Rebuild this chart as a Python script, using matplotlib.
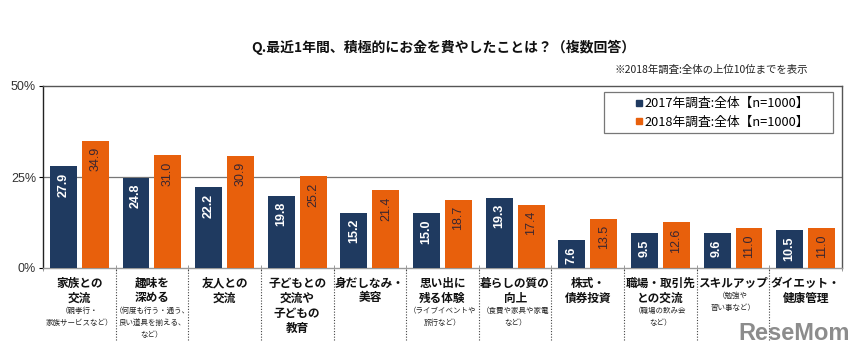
import numpy as np
import matplotlib.pyplot as plt
from matplotlib.lines import Line2D
from matplotlib.patches import Rectangle

plt.rcParams['font.family'] = ['Noto Sans CJK JP', 'DejaVu Sans']

# データ
main_labels = ['家族との\n交流', '趣味を\n深める', '友人との\n交流', '子どもとの\n交流や\n子どもの\n教育',
               '身だしなみ・\n美容', '思い出に\n残る体験', '暮らしの質の\n向上', '株式・\n債券投資',
               '職場・取引先\nとの交流', 'スキルアップ', 'ダイエット・\n健康管理']
sub_labels = ['（親孝行・\n家族サービスなど）', '（何度も行う・通う、\n良い道具を揃える、\nなど）', '', '',
              '', '（ライブイベントや\n旅行など）', '（食費や家具や家電\nなど）', '',
              '（職場の飲み会\nなど）', '（勉強や\n習い事など）', '']
vals_2017 = [27.9, 24.8, 22.2, 19.8, 15.2, 15.0, 19.3, 7.6, 9.5, 9.6, 10.5]
vals_2018 = [34.9, 31.0, 30.9, 25.2, 21.4, 18.7, 17.4, 13.5, 12.6, 11.0, 11.0]
series_names = ['2017年調査:全体【n=1000】', '2018年調査:全体【n=1000】']
yticks = [0, 25, 50]

c_navy = '#1f3a60'
c_orange = '#e8600c'


def main():
    fig = plt.figure(figsize=(8.56, 3.55), dpi=100)
    ax = fig.add_axes([43 / 856, 1 - 268 / 355, (842 - 43) / 856, (268 - 86) / 355])

    x = np.arange(len(main_labels))
    w = 0.37
    off = 0.22
    b1 = ax.bar(x - off, vals_2017, w, color=c_navy, zorder=3)
    b2 = ax.bar(x + off, vals_2018, w, color=c_orange, zorder=3)

    for bars, vals, col, wt in [(b1, vals_2017, 'white', 'bold'), (b2, vals_2018, '#3a2630', 'normal')]:
        for r, v in zip(bars, vals):
            ax.annotate(f'{v:.1f}', (r.get_x() + r.get_width() / 2, r.get_height()),
                        xytext=(0, -4.5), textcoords='offset points', rotation=90,
                        ha='center', va='top', fontsize=9, color=col, weight=wt,
                        family=['Liberation Sans', 'DejaVu Sans'], zorder=4)

    ax.set_xlim(-0.5, len(main_labels) - 0.5)
    ax.set_ylim(0, 50)
    ax.set_yticks(yticks)
    ax.set_yticklabels([f'{t}%' for t in yticks], fontsize=9, color='#333333',
                       family=['Liberation Sans', 'DejaVu Sans'])
    ax.tick_params(axis='y', length=3, width=0.8, pad=2)
    ax.set_xticks([])
    ax.set_xticks(np.arange(len(main_labels) + 1) - 0.5, minor=True)
    ax.tick_params(axis='x', which='minor', direction='inout', length=5, color='#888888')
    ax.axhline(25, color='#777777', lw=0.9, zorder=1)

    ax.spines['left'].set_color('#222222')
    ax.spines['top'].set_color('#555555')
    ax.spines['right'].set_color('#555555')
    ax.spines['bottom'].set_color('#999999')
    for s in ax.spines.values():
        s.set_linewidth(1.0)

    # 区切りの点線
    ax.vlines(np.arange(1, len(main_labels)) - 0.5, -72 / 182, 0, transform=ax.get_xaxis_transform(),
              colors='#444444', linestyles=(0, (1, 1.5)), lw=0.8, clip_on=False)

    # カテゴリラベル
    for i, (m, s) in enumerate(zip(main_labels, sub_labels)):
        y = -15 * 0.72
        for ln in m.split('\n'):
            ax.annotate(ln, (i, 0), xycoords=('data', 'axes fraction'), xytext=(0, y),
                        textcoords='offset points', ha='center', va='center',
                        fontsize=8.4, weight='bold', color='#111111', annotation_clip=False)
            y -= 15 * 0.72
        y += 15 * 0.72 - 13 * 0.72
        if s:
            for ln in s.split('\n'):
                ax.annotate(ln, (i, 0), xycoords=('data', 'axes fraction'), xytext=(0, y),
                            textcoords='offset points', ha='center', va='center',
                            fontsize=5.4, color='#222222', annotation_clip=False)
                y -= 12 * 0.72

    # 凡例
    fig.patches.append(Rectangle((604 / 856, 1 - 133 / 355), 229 / 856, 41 / 355,
                                 transform=fig.transFigure, fill=True, facecolor='white',
                                 edgecolor='#777777', lw=0.9, zorder=5))
    handles = [Line2D([], [], marker='s', ls='', color=c, markersize=4.5) for c in (c_navy, c_orange)]
    leg = fig.legend(handles, series_names, loc='center', bbox_to_anchor=(722 / 856, 1 - 113 / 355),
                     fontsize=9.2, frameon=False, handlelength=0.6, handletextpad=0.15,
                     labelspacing=0.45, borderpad=0.2, borderaxespad=0)
    leg.set_zorder(6)

    fig.text(443 / 856, 1 - 47 / 355, 'Q.最近1年間、積極的にお金を費やしたことは？（複数回答）',
             ha='center', va='center', fontsize=10, weight='bold', color='#111111')
    fig.text(808 / 856, 1 - 70 / 355, '※2018年調査:全体の上位10位までを表示',
             ha='right', va='center', fontsize=7.5, color='#222222')
    fig.text(850 / 856, 1 - 334 / 355, 'ReseMom', ha='right', va='center', fontsize=17,
             weight='bold', color='#8c8c8c', family=['Liberation Sans', 'DejaVu Sans'])

    fig.savefig('out.png', dpi=100)


if __name__ == "__main__":
    main()
